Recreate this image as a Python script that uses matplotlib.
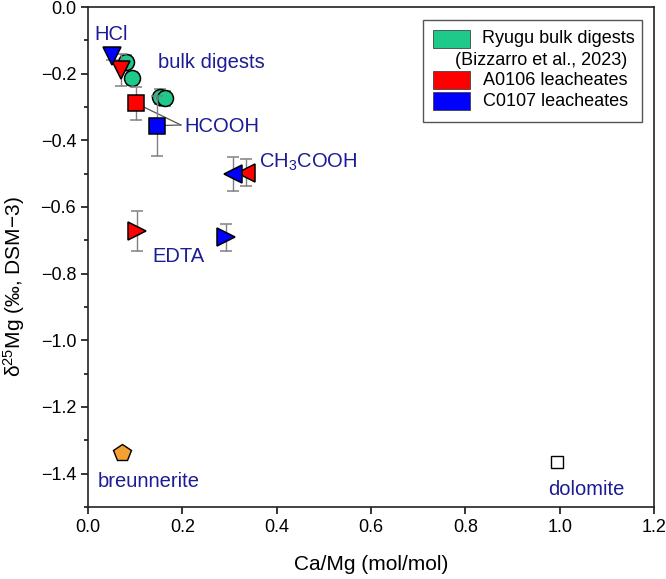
import matplotlib
matplotlib.use("Agg")
import matplotlib.pyplot as plt
from matplotlib.patches import Rectangle
from matplotlib.ticker import MultipleLocator, FuncFormatter

plt.rcParams['font.family'] = ['Liberation Sans', 'DejaVu Sans']
plt.rcParams['mathtext.fontset'] = 'custom'
plt.rcParams['mathtext.rm'] = 'Liberation Sans'
plt.rcParams['mathtext.it'] = 'Liberation Sans:italic'

# Ryugu bulk digests (Bizzarro et al., 2023)
bulk_x = [0.081, 0.094, 0.153, 0.163]
bulk_y = [-0.164, -0.214, -0.269, -0.274]
bulk_err = [0.02, 0.02, 0.022, 0.022]

# leachate steps: HCl, HCOOH, CH3COOH, EDTA
step_markers = ['v', 's', '<', '>']
a0106_x = [0.069, 0.102, 0.334, 0.103]
a0106_y = [-0.189, -0.289, -0.497, -0.672]
a0106_err = [0.048, 0.05, 0.04, 0.06]
c0107_x = [0.050, 0.147, 0.307, 0.293]
c0107_y = [-0.147, -0.356, -0.501, -0.691]
c0107_err = [0.012, 0.09, 0.05, 0.04]

breunnerite = (0.072, -1.338)
dolomite = (0.994, -1.365)

green = '#1ec98a'
label_col = '#1c1c96'
err_col = '#808080'

fig = plt.figure(figsize=(6.66, 5.79), dpi=100)
ax = fig.add_axes([0.1321, 0.1244, 0.8499, 0.8635])

# HCOOH connector lines
ax.plot([a0106_x[1], 0.197], [a0106_y[1], -0.354], color='#555555', lw=0.9, zorder=1)
ax.plot([c0107_x[1], 0.197], [c0107_y[1], -0.354], color='#555555', lw=0.9, zorder=1)

sizes = {'v': 13, 's': 11, '<': 13, '>': 13}

for x, y, e in zip(bulk_x, bulk_y, bulk_err):
    ax.errorbar(x, y, yerr=e, fmt='o', ms=11.5, mfc=green, mec='black', mew=1.1,
                ecolor=err_col, elinewidth=1, capsize=4, zorder=3)

for xs, ys, es, col in [(a0106_x, a0106_y, a0106_err, '#ff0000'),
                        (c0107_x, c0107_y, c0107_err, '#0000ff')]:
    for x, y, e, m in zip(xs, ys, es, step_markers):
        ax.errorbar(x, y, yerr=e, fmt=m, ms=sizes[m], mfc=col, mec='black', mew=1.1,
                    ecolor=err_col, elinewidth=1, capsize=4, zorder=4)

ax.plot(*breunnerite, marker='p', ms=13, mfc='#f5a132', mec='black', mew=1.0, ls='none', zorder=4)
ax.plot(*dolomite, marker='s', ms=9, mfc='white', mec='black', mew=1.0, ls='none', zorder=4)

# labels
lab = dict(color=label_col, fontsize=14.5, va='baseline', ha='left')
ax.text(0.013, -0.099, 'HCl', **lab)
ax.text(0.148, -0.184, 'bulk digests', **lab)
ax.text(0.204, -0.374, 'HCOOH', **lab)
ax.text(0.362, -0.482, 'CH$_3$COOH', **lab)
ax.text(0.136, -0.764, 'EDTA', **lab)
ax.text(0.021, -1.44, 'breunnerite', **lab)
ax.text(0.975, -1.464, 'dolomite', **lab)

# legend drawn by hand
tr = ax.transAxes
ax.add_patch(Rectangle((0.592, 0.770), 0.387, 0.204, transform=tr, fc='white',
                       ec='#555555', lw=1.0, zorder=6))
for yb, col in [(0.918, green), (0.836, '#ff0000'), (0.794, '#0000ff')]:
    ax.add_patch(Rectangle((0.610, yb), 0.065, 0.037, transform=tr, fc=col,
                           ec='#444444', lw=0.6, zorder=7))
leg = dict(transform=tr, fontsize=13, va='center', ha='left', zorder=8)
ax.text(0.696, 0.938, 'Ryugu bulk digests', **leg)
ax.text(0.648, 0.894, '(Bizzarro et al., 2023)', **leg)
ax.text(0.698, 0.854, 'A0106 leacheates', **leg)
ax.text(0.698, 0.811, 'C0107 leacheates', **leg)

fmt = FuncFormatter(lambda v, p: f'{v:.1f}'.replace('-', '\u2212'))
ax.set_xlim(0, 1.2)
ax.set_ylim(-1.5, 0)
ax.xaxis.set_major_locator(MultipleLocator(0.2))
ax.yaxis.set_major_locator(MultipleLocator(0.2))
ax.yaxis.set_minor_locator(MultipleLocator(0.1))
ax.xaxis.set_major_formatter(fmt)
ax.yaxis.set_major_formatter(fmt)
ax.tick_params(axis='both', which='major', labelsize=13, length=5, width=1.1, direction='out')
ax.tick_params(axis='y', which='minor', length=3, width=1.1, direction='out')
for s in ax.spines.values():
    s.set_linewidth(1.2)
    s.set_color('#222222')

ax.set_xlabel('Ca/Mg (mol/mol)', fontsize=15, labelpad=14)
ax.set_ylabel(r'δ$^{25}$Mg (‰, DSM−3)', fontsize=15)
ax.yaxis.set_label_coords(-0.108, 0.44)

fig.savefig('out.png', dpi=100)
